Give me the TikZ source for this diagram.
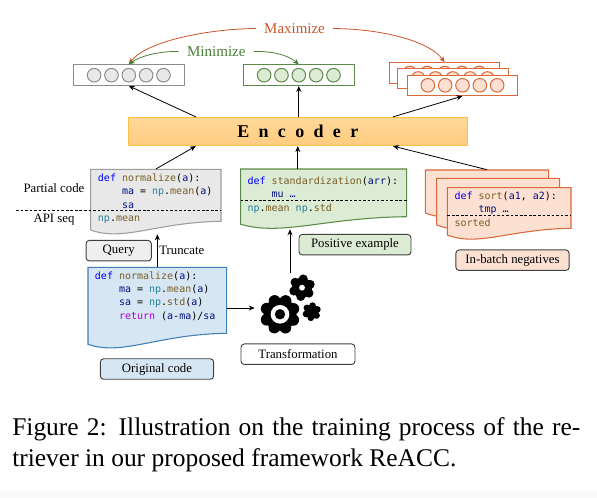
\documentclass[tikz,border=0pt]{standalone}
\usepackage{fontspec}
\setmainfont{Liberation Serif}
\newfontfamily\codefont{DejaVu Sans Mono}
\usetikzlibrary{calc,positioning,arrows.meta,fit}

\definecolor{rcGrayFill}{HTML}{E8E8E8}
\definecolor{rcGrayLine}{HTML}{8C8C8C}
\definecolor{rcGreenFill}{HTML}{DCEBD3}
\definecolor{rcGreenLine}{HTML}{5C8A48}
\definecolor{rcBlueFill}{HTML}{D7E6F3}
\definecolor{rcBlueLine}{HTML}{3F7FB5}
\definecolor{rcOrangeFill}{HTML}{FCE1D3}
\definecolor{rcOrangeLine}{HTML}{D9683A}
\definecolor{rcMax}{HTML}{C5552A}
\definecolor{rcMin}{HTML}{4B7F38}
\definecolor{rcEncTop}{HTML}{FFD899}
\definecolor{rcEncBot}{HTML}{FFCC80}
\definecolor{rcEncLine}{HTML}{FDBF45}
\definecolor{rcKw}{HTML}{0000FF}
\definecolor{rcFn}{HTML}{795E26}
\definecolor{rcVar}{HTML}{001080}
\definecolor{rcMod}{HTML}{267F99}
\definecolor{rcRet}{HTML}{AF00DB}

\newcommand{\kw}[1]{\textcolor{rcKw}{#1}}
\newcommand{\fn}[1]{\textcolor{rcFn}{#1}}
\newcommand{\vr}[1]{\textcolor{rcVar}{#1}}
\newcommand{\md}[1]{\textcolor{rcMod}{#1}}
\newcommand{\rt}[1]{\textcolor{rcRet}{#1}}
\newcommand{\ind}{\phantom{xxxx}}

% name, style, left, top, right, bottom right, bottom left, lowest point
\newcommand{\codedoc}[8]{%
  \draw[#2] (#3,#4) -- (#5,#4) -- (#5,#6)
    .. controls ({#3+0.5*(#5-#3)},{#6+1}) and ({#3+0.25*(#5-#3)},{#7+12}) .. (#3,#7) -- cycle;
  \node[fit={(#3,#4)(#5,#8)}, inner sep=0pt] (#1) {};
}

% name, style, x, y
\newcommand{\vecrow}[4]{%
  \node[vecbox, #2, fill=white] (#1) at (#3,#4) {};
  \foreach \i in {1,...,5}
    \node[vecdot, #2] (#1\i) at ([xshift={(\i-3)*13pt}]#1) {};
}

% x, y, body radius, lobe centre radius, lobe radius, lobes
\newcommand{\gearshape}[6]{%
  \fill[black] (#1,#2) circle (#3);
  \foreach \a in {1,...,#6}
    \fill[black] (#1,#2) ++({\a*360/#6+22}:#4) circle (#5);
}

\tikzset{
  arrowline/.style={black, line width=0.6pt, -{Stealth[length=4.5pt,width=3.8pt]}},
  curvemax/.style={rcMax, line width=0.6pt, -{Stealth[length=4.5pt,width=3.8pt]}},
  curvemin/.style={rcMin, line width=0.6pt, -{Stealth[length=4.5pt,width=3.8pt]}},
  cutline/.style={black, line width=0.6pt, dash pattern=on 2pt off 1.4pt},
  vecbox/.style={draw, line width=0.75pt, minimum width=82.9pt, minimum height=15.4pt, inner sep=0pt},
  vecdot/.style={draw, circle, line width=0.75pt, minimum size=10.2pt, inner sep=0pt},
  grayvec/.style={draw=rcGrayLine, fill=rcGrayFill},
  greenvec/.style={draw=rcGreenLine, fill=rcGreenFill},
  orangevec/.style={draw=rcOrangeLine, fill=rcOrangeFill},
  labelbox/.style={draw=black!75, rounded corners=2.5pt, line width=0.7pt, font=\fontsize{9.6}{11}\selectfont, minimum height=15.4pt, inner sep=0pt},
  plainlabel/.style={font=\fontsize{9.6}{11}\selectfont, inner sep=0pt},
  codetext/.style={anchor=north west, align=left, inner sep=0pt, font=\codefont\fontsize{7.5}{10}\selectfont},
}

\begin{document}
\begin{tikzpicture}[x=0.75pt, y=-0.75pt]
  \useasboundingbox (0,0) rectangle (597,498);
  \fill[black!2] (0,491) rectangle (597,498);

  % Maximize / minimize labels
  \node[font=\fontsize{11.2}{14}\selectfont, text=rcMax, inner sep=6pt] (maxLabel) at (294.5,28.5) {Maximize};
  \node[font=\fontsize{11.3}{14}\selectfont, text=rcMin, inner sep=6pt] (minLabel) at (216.3,51.5) {Minimize};

  % Embedding vectors
  \vecrow{queryVec}{grayvec}{128.8}{75.2}
  \vecrow{posVec}{greenvec}{298.8}{75.2}
  \vecrow{negVecA}{orangevec}{444.6}{73}
  \vecrow{negVecB}{orangevec}{452.8}{78.5}
  \vecrow{negVecC}{orangevec}{462.5}{85.3}

  % Curved arrows between vectors
  \draw[curvemax] (maxLabel.west) .. controls (205,29) and (145,42) .. (queryVec.north);
  \draw[curvemax] (maxLabel.east) .. controls (385,29) and (430,42) .. (negVecA.north);
  \draw[curvemin] (minLabel.west) .. controls (160,51) and (140,56) .. (queryVec.north);
  \draw[curvemin] (minLabel.east) .. controls (272,51) and (288,55) .. (posVec.north);

  % Encoder
  \node[draw=rcEncLine, line width=0.9pt, top color=rcEncTop, bottom color=rcEncBot,
        minimum width=254pt, minimum height=21pt, inner sep=0pt,
        font=\bfseries\fontsize{13.5}{15}\selectfont] (encoder) at (297.8,131.5)
        {\spaceskip=7pt E n c o d e r};

  % Query document
  \codedoc{queryDoc}{draw=rcGrayLine!85, fill=rcGrayFill, line width=0.8pt}{90.7}{169.3}{221}{221.3}{230}{234}
  \node[codetext] (queryCode) at (97.7,173.5) {\kw{def} \fn{normalize}(\vr{a}):\\
    \ind\vr{ma} = \md{np}.\fn{mean}(\vr{a})\\
    \ind\vr{sa}\\
    \md{np}.\fn{mean}};
  \coordinate (cutLeft) at (16,210);
  \draw[cutline] (cutLeft) -- (queryDoc.east |- cutLeft);
  \node[plainlabel] (partialLabel) at (54,188) {Partial code};
  \node[plainlabel] (apiLabel) at (54,220) {API seq};
  \node[labelbox, fill=rcGrayFill!70, minimum width=49pt] (queryBox) at (118.7,250.7) {Query};

  % Original document
  \codedoc{origDoc}{draw=rcBlueLine, fill=rcBlueFill, line width=0.8pt}{88}{267.3}{226.7}{333.3}{344.3}{348.7}
  \node[codetext] (origCode) at (94.7,271.3) {\kw{def} \fn{normalize}(\vr{a}):\\
    \ind\vr{ma} = \md{np}.\fn{mean}(\vr{a})\\
    \ind\vr{sa} = \md{np}.\fn{std}(\vr{a})\\
    \ind\rt{return} (\vr{a}-\vr{ma})/\vr{sa}};
  \node[labelbox, fill=rcBlueFill, minimum width=85pt] (origBox) at (157,369) {Original code};

  % Positive document
  \codedoc{posDoc}{draw=rcGreenLine, fill=rcGreenFill, line width=0.8pt}{240.7}{169}{406.7}{216.7}{224.3}{229}
  \node[codetext] (posCode) at (247.3,176.6) {\kw{def} \fn{standardization}(\vr{arr}):\\
    \ind\vr{mu} \vr{…}\\
    \md{np}.\fn{mean} \md{np}.\fn{std}};
  \coordinate (cutPos) at (240.7,200);
  \draw[cutline] (cutPos) -- (posDoc.east |- cutPos);
  \node[labelbox, fill=rcGreenFill, minimum width=84pt] (posBox) at (355,244.7) {Positive example};

  % Negative documents
  \codedoc{negDocA}{draw=rcOrangeLine, fill=rcOrangeFill, line width=0.8pt}{425.3}{170}{548.7}{206}{213}{218}
  \codedoc{negDocB}{draw=rcOrangeLine, fill=rcOrangeFill, line width=0.8pt}{436.7}{178.3}{559.7}{218}{225}{230}
  \codedoc{negDocC}{draw=rcOrangeLine, fill=rcOrangeFill, line width=0.8pt}{447.3}{187.7}{571}{228.3}{235}{238}
  \node[codetext] (negCode) at (454.3,191.8) {\kw{def} \fn{sort}(\vr{a1}, \vr{a2}):\\
    \ind\vr{tmp} \vr{…}\\
    \fn{sorted}};
  \coordinate (cutNeg) at (447.3,215.3);
  \draw[cutline] (cutNeg) -- (negDocC.east |- cutNeg);
  \node[labelbox, fill=rcOrangeFill, minimum width=85pt] (negBox) at (512.5,260.2) {In-batch negatives};

  % Gears
  \gearshape{280}{314.3}{12.3pt}{10.8pt}{4.4pt}{8}
  \fill[white] (280,314.3) circle (7pt);
  \fill[black] (280,314.3) circle (3.9pt);
  \gearshape{302}{287.7}{7.6pt}{6.6pt}{3.4pt}{6}
  \fill[white] (302,287.7) circle (2.2pt);
  \gearshape{311.7}{311.7}{5.3pt}{4.6pt}{2.5pt}{6}
  \node[fit={(255,273.3)(325,335)}, inner sep=0pt] (gears) {};
  \node[labelbox, fill=white, minimum width=85.5pt] (gearBox) at (298,354.2) {Transformation};

  % Arrows into and out of the encoder
  \draw[arrowline] ($(encoder.north west)!0.2!(encoder.north east)$) -- (queryVec.south);
  \draw[arrowline] (encoder.north -| posVec.south) -- (posVec.south);
  \draw[arrowline] ($(encoder.north west)!0.78!(encoder.north east)$) -- (negVecC.south);
  \draw[arrowline] (queryDoc.north) -- ($(encoder.south west)!0.2!(encoder.south east)$);
  \draw[arrowline] (encoder.south |- posDoc.north) -- (encoder.south);
  \draw[arrowline] (negDocA.north) -- ($(encoder.south west)!0.78!(encoder.south east)$);

  % Arrows between the documents and the gears
  \draw[arrowline] (origDoc.north) -- (origDoc.north |- queryDoc.south);
  \node[plainlabel, anchor=west] (truncLabel) at (159,250) {Truncate};
  \draw[arrowline] (origDoc.east) -- (gears.west |- origDoc.east);
  \draw[arrowline] (gears.north) -- (gears.north |- posDoc.south);

  % Caption
  \node[anchor=north west, inner sep=0pt, text width=426pt, align=justify,
        font=\fontsize{19.1}{23.3}\selectfont] (caption) at (12,417)
        {Figure 2: Illustration on the training process of the re-\linebreak
         triever in our proposed framework ReACC.};
\end{tikzpicture}
\end{document}
